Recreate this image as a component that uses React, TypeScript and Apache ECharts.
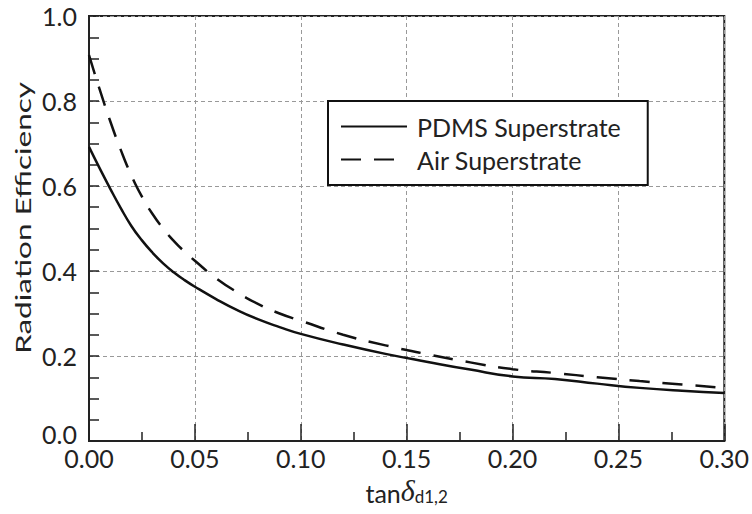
import React, { useEffect, useRef } from "react";
import * as echarts from "echarts";

const tanDelta = [0, 0.005, 0.01, 0.015, 0.02, 0.025, 0.03, 0.035, 0.04, 0.045, 0.05, 0.06, 0.07, 0.08, 0.09, 0.1, 0.12, 0.14, 0.16, 0.18, 0.2, 0.22, 0.24, 0.26, 0.28, 0.3];
const pdmsEff = [0.692, 0.642, 0.594, 0.548, 0.506, 0.472, 0.443, 0.418, 0.397, 0.379, 0.363, 0.334, 0.308, 0.286, 0.268, 0.252, 0.227, 0.205, 0.186, 0.168, 0.152, 0.146, 0.135, 0.125, 0.118, 0.113];
const airEff = [0.908, 0.828, 0.753, 0.685, 0.625, 0.575, 0.534, 0.5, 0.471, 0.446, 0.424, 0.383, 0.35, 0.322, 0.3, 0.283, 0.25, 0.225, 0.204, 0.185, 0.169, 0.16, 0.15, 0.141, 0.133, 0.125];
const seriesNames = ["PDMS Superstrate", "Air Superstrate"];
const yTitle = "Radiation Efficiency";

export default function App() {
  const ref = useRef<HTMLDivElement>(null);
  useEffect(() => {
    document.body.style.margin = "0";
    const chart = echarts.init(ref.current!, null, { renderer: "svg" });
    const font = "Lato";
    chart.setOption({
      animation: false,
      backgroundColor: "#fff",
      grid: { left: 89, right: 27, top: 16, bottom: 73, show: true, borderColor: "#222", borderWidth: 2, backgroundColor: "transparent" },
      xAxis: {
        type: "value",
        min: 0,
        max: 0.3,
        interval: 0.05,
        axisLine: { show: true, lineStyle: { color: "#222", width: 2 } },
        axisTick: { show: true, inside: true, length: 17, lineStyle: { color: "#222", width: 1.5 } },
        minorTick: { show: true, splitNumber: 2, length: 9, lineStyle: { color: "#222", width: 1.5 } },
        splitLine: { show: true, lineStyle: { color: "#999", type: [4, 3], width: 1 } },
        axisLabel: { margin: 8, fontFamily: font, fontSize: 25, lineHeight: 18, color: "#222", formatter: (v: number) => v.toFixed(2) },
        name: "{a|tan}{b|δ}{c|d1,2}",
        nameLocation: "middle",
        nameGap: 34,
        nameTextStyle: {
          rich: {
            a: { fontFamily: font, fontSize: 25, color: "#222", lineHeight: 30, verticalAlign: "bottom" },
            b: { fontFamily: "Liberation Serif", fontStyle: "italic", fontSize: 30, color: "#222", lineHeight: 30, verticalAlign: "bottom" },
            c: { fontFamily: font, fontSize: 17, color: "#222", lineHeight: 14, verticalAlign: "bottom" },
          },
        },
      },
      yAxis: {
        type: "value",
        min: 0,
        max: 1,
        interval: 0.2,
        axisLine: { show: true, lineStyle: { color: "#222", width: 2 } },
        axisTick: { show: true, inside: true, length: 10, lineStyle: { color: "#222", width: 1.5 } },
        minorTick: { show: true, splitNumber: 4, length: 10, lineStyle: { color: "#222", width: 1.5 } },
        splitLine: { show: true, lineStyle: { color: "#999", type: [4, 3], width: 1 } },
        axisLabel: {
          margin: 12,
          fontFamily: font,
          fontSize: 25,
          lineHeight: 18,
          color: "#222",
          formatter: (v: number) => (v === 0 ? "{z|" + v.toFixed(1) + "}" : v.toFixed(1)),
          rich: { z: { fontFamily: font, fontSize: 25, lineHeight: 18, color: "#222", padding: [0, 0, 14, 0] } },
        },
      },
      legend: {
        orient: "vertical",
        left: 328,
        top: 101,
        padding: [13, 27, 13, 12],
        itemGap: 8,
        itemWidth: 66,
        itemHeight: 25,
        borderColor: "#111",
        borderWidth: 2,
        borderRadius: 0,
        backgroundColor: "#fff",
        selectedMode: false,
        itemStyle: { opacity: 0 },
        textStyle: { fontFamily: font, fontSize: 25, color: "#222", padding: [0, 0, 0, 5] },
        data: seriesNames,
      },
      graphic: [
        {
          type: "text",
          x: 23,
          y: 218,
          rotation: Math.PI / 2,
          scaleX: 1.5,
          scaleY: 1,
          style: { text: yTitle, fontFamily: font, fontSize: 21, fill: "#222", textAlign: "center", textVerticalAlign: "middle" },
        },
      ],
      series: [
        {
          name: seriesNames[0],
          type: "line",
          data: tanDelta.map((x, i) => [x, pdmsEff[i]]),
          symbol: "none",
          showSymbol: false,
          smooth: 0.5,
          lineStyle: { color: "#111", width: 2.5, type: "solid" },
          itemStyle: { color: "#111" },
          z: 5,
        },
        {
          name: seriesNames[1],
          type: "line",
          data: tanDelta.map((x, i) => [x, airEff[i]]),
          symbol: "none",
          showSymbol: false,
          smooth: 0.5,
          lineStyle: { color: "#111", width: 2.5, type: [20, 13] },
          itemStyle: { color: "#111" },
          z: 5,
        },
      ],
    });
    return () => chart.dispose();
  }, []);
  return <div ref={ref} style={{ width: 752, height: 514 }} />;
}
